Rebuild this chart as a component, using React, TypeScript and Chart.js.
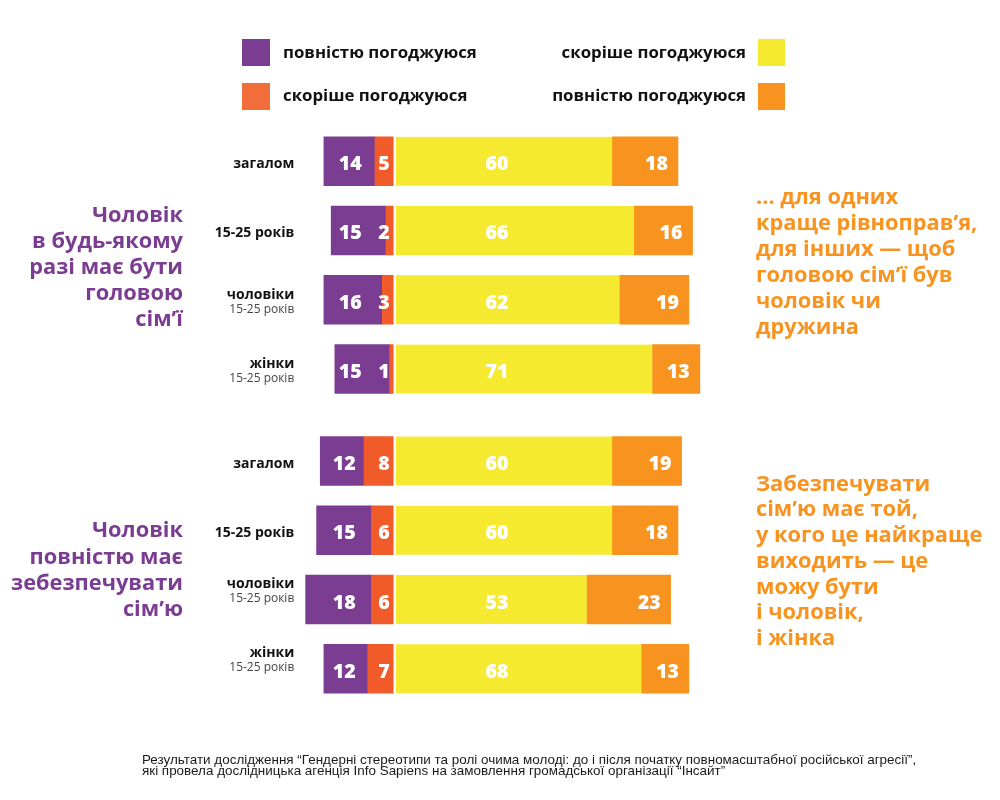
import React, { useEffect, useRef } from "react";
import { Chart, registerables } from "chart.js";

Chart.register(...registerables);

// ---------- data ----------
const categories = ["загалом", "15-25 років", "чоловіки", "жінки", "загалом", "15-25 років", "чоловіки", "жінки"];
const subLabels = ["", "", "15-25 років", "15-25 років", "", "", "15-25 років", "15-25 років"];
const rowPositions = [0, 1, 2, 3, 4.33, 5.33, 6.33, 7.33];
const fullyAgreeLeft = [14, 15, 16, 15, 12, 15, 18, 12]; // purple
const ratherAgreeLeft = [5, 2, 3, 1, 8, 6, 6, 7]; // red-orange
const ratherAgreeRight = [60, 66, 62, 71, 60, 60, 53, 68]; // yellow
const fullyAgreeRight = [18, 16, 19, 13, 19, 18, 23, 13]; // orange
const legendLabels = ["повністю погоджуюся", "скоріше погоджуюся", "скоріше погоджуюся", "повністю погоджуюся"];
const leftNotes = [
  ["Чоловік", "в будь-якому", "разі має бути", "головою", "сім’ї"],
  ["Чоловік", "повністю має", "зебезпечувати", "сім’ю"],
];
const rightNotes = [
  ["... для одних", "краще рівноправ’я,", "для інших — щоб", "головою сім’ї був", "чоловік чи", "дружина"],
  ["Забезпечувати", "сім’ю має той,", "у кого це найкраще", "виходить — це", "можу бути", "і чоловік,", "і жінка"],
];
const footnote = [
  "Результати дослідження “Гендерні стереотипи та ролі очима молоді: до і після початку повномасштабної російської агресії”,",
  "які провела дослідницька агенція Info Sapiens на замовлення громадської організації “Інсайт”",
];

// ---------- styles ----------
const PURPLE = "#7B3D91";
const RED = "#F15A29";
const RED_LEGEND = "#F36D3B";
const YELLOW = "#F5EA30";
const ORANGE = "#F7931E";
const FONT = "'Open Sans', sans-serif";
const FOOT_FONT = "'Liberation Sans', Arial, sans-serif";

function fit(ctx: CanvasRenderingContext2D, weight: string, family: string, text: string, width: number) {
  ctx.font = `${weight} 100px ${family}`;
  return (100 * width) / ctx.measureText(text).width;
}

export default function App() {
  const ref = useRef<HTMLCanvasElement>(null);

  useEffect(() => {
    const canvas = ref.current!;
    const mk = (vals: number[], sign: number) => vals.map((v, i) => ({ x: sign * v, y: rowPositions[i] }));

    const textPlugin = {
      id: "customText",
      afterDatasetsDraw(chart: any) {
        const { ctx, scales } = chart;
        const xs = scales.x;
        const ys = scales.y;
        const zero = xs.getPixelForValue(0);
        ctx.save();

        // values inside bars
        const numSize = fit(ctx, "800", FONT, "14", 23);
        ctx.font = `800 ${numSize}px ${FONT}`;
        ctx.fillStyle = "#ffffff";
        ctx.textBaseline = "alphabetic";
        for (let i = 0; i < rowPositions.length; i++) {
          const cy = ys.getPixelForValue(rowPositions[i]);
          const base = cy + 9;
          ctx.textAlign = "center";
          ctx.fillText(String(fullyAgreeLeft[i]), xs.getPixelForValue(i < 4 ? -11.8 : -13.4), base);
          ctx.textAlign = "right";
          ctx.fillText(String(ratherAgreeLeft[i]), zero - 3.5, base);
          ctx.textAlign = "center";
          ctx.fillText(String(ratherAgreeRight[i]), xs.getPixelForValue(28.4), base);
          ctx.textAlign = "right";
          ctx.fillText(
            String(fullyAgreeRight[i]),
            xs.getPixelForValue(ratherAgreeRight[i] + fullyAgreeRight[i]) - 10,
            base
          );
        }

        // category labels
        const catSize = fit(ctx, "700", FONT, "загалом", 61);
        const subSize = fit(ctx, "400", FONT, "15-25 років", 65);
        const labelRight = zero - 99;
        ctx.textAlign = "right";
        for (let i = 0; i < categories.length; i++) {
          const cy = ys.getPixelForValue(rowPositions[i]);
          ctx.fillStyle = "#111111";
          if (subLabels[i]) {
            const o1 = i < 4 ? -1 : -12;
            const o2 = i < 4 ? 13.5 : 2;
            ctx.font = `700 ${catSize}px ${FONT}`;
            ctx.fillText(categories[i], labelRight, cy + o1);
            ctx.fillStyle = "#444444";
            ctx.font = `400 ${subSize}px ${FONT}`;
            ctx.fillText(subLabels[i], labelRight, cy + o2);
          } else {
            ctx.font = `700 ${catSize}px ${FONT}`;
            ctx.fillText(categories[i], labelRight, cy + 6.5);
          }
        }

        // legend
        const legSize = fit(ctx, "700", FONT, legendLabels[0], 194);
        ctx.font = `700 ${legSize}px ${FONT}`;
        ctx.fillStyle = PURPLE;
        ctx.fillRect(242, 39, 28, 27);
        ctx.fillStyle = RED_LEGEND;
        ctx.fillRect(242, 83, 28, 27);
        ctx.fillStyle = YELLOW;
        ctx.fillRect(758, 39, 27, 27);
        ctx.fillStyle = ORANGE;
        ctx.fillRect(758, 83, 27, 27);
        ctx.fillStyle = "#111111";
        ctx.textAlign = "left";
        ctx.fillText(legendLabels[0], 283, 57.5);
        ctx.fillText(legendLabels[1], 283, 101);
        ctx.textAlign = "right";
        ctx.fillText(legendLabels[2], 746, 57.5);
        ctx.fillText(legendLabels[3], 746, 101);

        // side notes
        const noteSize = fit(ctx, "700", FONT, "в будь-якому", 151);
        ctx.font = `700 ${noteSize}px ${FONT}`;
        ctx.fillStyle = PURPLE;
        ctx.textAlign = "right";
        leftNotes[0].forEach((t, k) => ctx.fillText(t, 183, 221.5 + k * 26.1));
        leftNotes[1].forEach((t, k) => ctx.fillText(t, 183, 537.3 + k * 26.2));
        ctx.fillStyle = ORANGE;
        ctx.textAlign = "left";
        rightNotes[0].forEach((t, k) => ctx.fillText(t, 756, 204 + k * 26));
        rightNotes[1].forEach((t, k) => ctx.fillText(t, 756, 490.7 + k * 25.7));

        // footnote
        const footSize = fit(ctx, "400", FOOT_FONT, footnote[0], 775);
        ctx.font = `400 ${footSize}px ${FOOT_FONT}`;
        ctx.fillStyle = "#1a1a1a";
        ctx.textAlign = "left";
        ctx.fillText(footnote[0], 142, 763.5);
        ctx.fillText(footnote[1], 142, 775);

        ctx.restore();
      },
    };

    const chart = new Chart(canvas, {
      type: "bar",
      data: {
        datasets: [
          { label: "скоріше погоджуюся", data: mk(ratherAgreeLeft, -1) as any, backgroundColor: RED, borderWidth: 0 },
          { label: "повністю погоджуюся", data: mk(fullyAgreeLeft, -1) as any, backgroundColor: PURPLE, borderWidth: 0 },
          {
            label: "скоріше погоджуюся",
            data: mk(ratherAgreeRight, 1) as any,
            backgroundColor: YELLOW,
            borderColor: "#ffffff",
            borderWidth: { left: 3, top: 0, right: 0, bottom: 0 } as any,
            borderSkipped: false,
          },
          { label: "повністю погоджуюся", data: mk(fullyAgreeRight, 1) as any, backgroundColor: ORANGE, borderWidth: 0 },
        ],
      },
      options: {
        indexAxis: "y",
        responsive: false,
        animation: false,
        events: [],
        barThickness: 49,
        layout: { padding: { left: 302, right: 296.5, top: 92, bottom: 62 } },
        scales: {
          x: { type: "linear", stacked: true, min: -25, max: 85, display: false, offset: false },
          y: { type: "linear", stacked: true, min: -1, max: 8.33, reverse: true, display: false, offset: false },
        },
        plugins: {
          legend: { display: false },
          tooltip: { enabled: false },
        },
      } as any,
      plugins: [textPlugin],
    });
    return () => chart.destroy();
  }, []);

  return (
    <div style={{ position: "absolute", left: 0, top: 0, width: 1000, height: 800, background: "#fff" }}>
      <canvas ref={ref} width={1000} height={800} style={{ display: "block" }} />
    </div>
  );
}
